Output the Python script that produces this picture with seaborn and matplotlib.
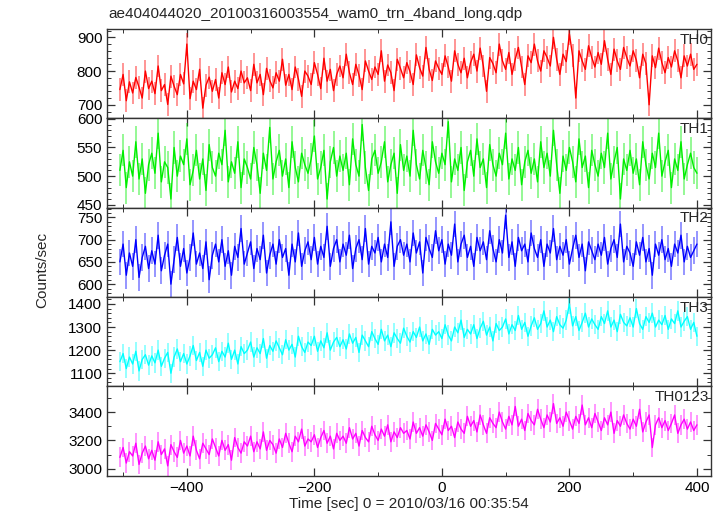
import numpy as np
import pandas as pd
import matplotlib
matplotlib.use("Agg")
import matplotlib.pyplot as plt
from matplotlib.ticker import MultipleLocator
import seaborn as sns

# light curve, 5 s bins from -505 s to 400 s
t_start, t_stop, t_bin = -505, 400, 5

th0 = [745, 790, 712, 768, 735, 781, 752, 720, 800, 748,
       770, 733, 815, 742, 760, 701, 785, 755, 730, 790,
       762, 880, 718, 770, 745, 805, 690, 758, 782, 740,
       775, 720, 795, 760, 812, 738, 770, 748, 800, 765,
       780, 742, 820, 765, 790, 730, 808, 772, 750, 795,
       770, 835, 758, 790, 745, 812, 776, 725, 800, 785,
       760, 825, 790, 748, 838, 770, 805, 742, 790, 815,
       780, 850, 795, 760, 820, 788, 745, 830, 800, 775,
       812, 790, 860, 770, 818, 795, 742, 835, 808, 780,
       825, 798, 760, 848, 810, 785, 870, 805, 772, 830,
       808, 790, 845, 812, 770, 860, 820, 795, 838, 780,
       825, 850, 800, 868, 815, 740, 840, 822, 795, 880,
       830, 805, 855, 790, 835, 870, 812, 760, 845, 825,
       880, 830, 800, 860, 840, 815, 900, 835, 790, 850,
       828, 910, 845, 720, 860, 830, 805, 875, 840, 812,
       855, 820, 890, 835, 790, 865, 830, 805, 870, 840,
       815, 860, 832, 780, 850, 822, 700, 845, 810, 868,
       825, 795, 840, 812, 860, 830, 780, 845, 815, 850,
       805, 820]

th1 = [510, 545, 480, 525, 500, 560, 495, 530, 470, 520,
       540, 505, 575, 490, 525, 515, 460, 550, 500, 535,
       520, 565, 485, 510, 545, 495, 530, 475, 555, 515,
       500, 540, 520, 580, 490, 525, 505, 560, 480, 530,
       515, 495, 550, 520, 470, 540, 510, 585, 495, 525,
       545, 500, 530, 480, 560, 515, 490, 540, 520, 505,
       530, 570, 495, 515, 545, 460, 525, 550, 500, 535,
       510, 540, 485, 565, 520, 500, 590, 515, 475, 530,
       545, 505, 525, 560, 490, 520, 540, 470, 555, 510,
       535, 500, 580, 520, 495, 545, 515, 485, 560, 525,
       505, 540, 520, 595, 490, 530, 510, 550, 475, 525,
       545, 500, 565, 515, 530, 480, 555, 520, 500, 540,
       520, 575, 495, 530, 510, 550, 485, 525, 545, 505,
       530, 490, 560, 515, 540, 500, 580, 520, 470, 535,
       510, 550, 525, 490, 565, 515, 535, 480, 545, 520,
       500, 540, 515, 575, 495, 525, 550, 460, 530, 510,
       545, 505, 530, 485, 560, 520, 495, 540, 515, 575,
       500, 525, 545, 480, 530, 510, 560, 495, 520, 540,
       515, 505]

th2 = [650, 690, 620, 670, 640, 700, 615, 660, 685, 635,
       675, 645, 710, 630, 665, 690, 600, 655, 705, 640,
       680, 625, 660, 715, 645, 670, 635, 695, 610, 665,
       690, 650, 700, 640, 675, 620, 685, 660, 725, 645,
       670, 695, 635, 680, 655, 710, 625, 665, 690, 645,
       700, 660, 680, 620, 690, 650, 715, 640, 675, 695,
       655, 705, 645, 685, 660, 730, 640, 680, 700, 650,
       690, 665, 710, 635, 680, 700, 655, 725, 645, 685,
       670, 705, 650, 690, 660, 740, 640, 685, 700, 665,
       690, 650, 715, 670, 695, 625, 705, 680, 660, 720,
       675, 700, 645, 690, 665, 735, 650, 690, 710, 660,
       685, 640, 705, 675, 695, 655, 720, 680, 650, 700,
       670, 755, 660, 695, 640, 705, 675, 690, 650, 715,
       680, 660, 700, 640, 690, 670, 725, 655, 685, 665,
       700, 645, 680, 710, 660, 690, 630, 695, 675, 655,
       690, 665, 705, 645, 680, 700, 660, 735, 650, 685,
       670, 640, 695, 665, 705, 650, 680, 620, 690, 665,
       700, 655, 680, 640, 690, 670, 710, 650, 685, 660,
       675, 690]

th3 = [1150, 1185, 1120, 1170, 1140, 1195, 1110, 1160, 1180, 1135,
       1175, 1145, 1200, 1130, 1165, 1190, 1100, 1170, 1205, 1150,
       1185, 1140, 1175, 1220, 1155, 1190, 1130, 1200, 1165, 1180,
       1210, 1150, 1195, 1170, 1230, 1160, 1200, 1140, 1215, 1185,
       1200, 1235, 1170, 1210, 1185, 1250, 1165, 1220, 1195, 1240,
       1210, 1180, 1245, 1200, 1225, 1170, 1260, 1215, 1190, 1235,
       1220, 1260, 1195, 1240, 1210, 1275, 1200, 1235, 1255, 1215,
       1245, 1205, 1270, 1230, 1255, 1190, 1265, 1240, 1215, 1280,
       1250, 1225, 1290, 1240, 1265, 1215, 1275, 1250, 1230, 1295,
       1260, 1235, 1280, 1255, 1300, 1240, 1270, 1225, 1290, 1265,
       1280, 1250, 1310, 1265, 1240, 1300, 1275, 1330, 1255, 1290,
       1270, 1310, 1250, 1295, 1325, 1265, 1300, 1240, 1315, 1285,
       1300, 1335, 1270, 1310, 1285, 1350, 1290, 1320, 1260, 1305,
       1340, 1290, 1315, 1370, 1300, 1330, 1280, 1345, 1310, 1295,
       1330, 1400, 1305, 1345, 1285, 1320, 1360, 1300, 1335, 1310,
       1290, 1345, 1315, 1370, 1300, 1330, 1280, 1355, 1320, 1305,
       1340, 1300, 1380, 1315, 1290, 1345, 1320, 1360, 1300, 1330,
       1310, 1350, 1290, 1335, 1315, 1370, 1300, 1325, 1345, 1290,
       1320, 1260]

th0123 = [3080, 3150, 3040, 3120, 3090, 3180, 3030, 3110, 3160, 3070,
          3130, 3060, 3190, 3100, 3140, 3020, 3170, 3120, 3080, 3200,
          3110, 3160, 3090, 3230, 3130, 3070, 3180, 3140, 3100, 3210,
          3150, 3090, 3200, 3130, 3170, 3060, 3220, 3150, 3110, 3190,
          3160, 3230, 3120, 3190, 3140, 3260, 3130, 3200, 3170, 3110,
          3210, 3150, 3250, 3180, 3120, 3230, 3190, 3280, 3160, 3210,
          3190, 3240, 3150, 3220, 3270, 3180, 3230, 3140, 3250, 3200,
          3230, 3180, 3290, 3210, 3250, 3160, 3270, 3220, 3190, 3300,
          3240, 3200, 3280, 3230, 3310, 3190, 3260, 3220, 3290, 3250,
          3270, 3210, 3330, 3250, 3290, 3230, 3310, 3260, 3200, 3320,
          3280, 3240, 3350, 3270, 3300, 3220, 3330, 3280, 3250, 3370,
          3300, 3340, 3260, 3380, 3310, 3250, 3360, 3320, 3290, 3400,
          3330, 3280, 3370, 3310, 3440, 3300, 3350, 3270, 3390, 3340,
          3310, 3420, 3350, 3290, 3380, 3330, 3460, 3320, 3360, 3300,
          3400, 3340, 3280, 3370, 3320, 3450, 3310, 3360, 3290, 3390,
          3330, 3270, 3360, 3310, 3400, 3250, 3340, 3300, 3380, 3320,
          3280, 3350, 3300, 3420, 3260, 3330, 3380, 3150, 3310, 3360,
          3290, 3340, 3270, 3320, 3380, 3250, 3310, 3350, 3280, 3330,
          3270, 3310]

bands = ["TH0", "TH1", "TH2", "TH3", "TH0123"]
series = [th0, th1, th2, th3, th0123]
errors = [34, 28, 30, 42, 70]
colors = ["#ff0000", "#00ee00", "#0000ff", "#00ffff", "#ff00ff"]
ylims = [(660, 925), (445, 601), (571, 772), (1043, 1430), (2950, 3582)]
major = [100, 50, 50, 100, 200]
minor = [20, 10, 10, 20, 100]

time = np.arange(t_start, t_stop + 1, t_bin)

sns.set_style("ticks")
plt.rcParams["font.family"] = ["Liberation Sans", "DejaVu Sans"]

fig, axes = plt.subplots(5, 1, figsize=(7.24, 5.16), dpi=100, sharex=True)
fig.subplots_adjust(left=0.148, right=0.982, top=0.944, bottom=0.078, hspace=0)

for ax, name, vals, err, col, yl, mj, mn in zip(axes, bands, series, errors,
                                                 colors, ylims, major, minor):
    df = pd.DataFrame({"t": time, "rate": vals})
    # error bars first, lighter
    ax.vlines(df["t"], df["rate"] - err, df["rate"] + err, color=col,
              alpha=0.45, lw=1.3)
    sns.lineplot(data=df, x="t", y="rate", ax=ax, color=col, lw=1.0)
    ax.set_ylim(*yl)
    ax.set_xlim(-525, 422)
    ax.yaxis.set_major_locator(MultipleLocator(mj))
    ax.yaxis.set_minor_locator(MultipleLocator(mn))
    ax.xaxis.set_major_locator(MultipleLocator(200))
    ax.xaxis.set_minor_locator(MultipleLocator(100))
    ax.tick_params(which="both", direction="in", top=True, right=True,
                   labelsize=11, colors="#333333", labelcolor="black")
    ax.tick_params(which="major", length=6, width=0.9)
    ax.tick_params(which="minor", length=3, width=0.7)
    ax.set_xlabel("")
    ax.set_ylabel("")
    for s in ax.spines.values():
        s.set_color("#333333")
        s.set_linewidth(1.0)
    ax.text(0.996, 0.88, name, transform=ax.transAxes, ha="right",
            va="center", fontsize=11)

axes[-1].set_xlabel("Time [sec] 0 = 2010/03/16 00:35:54", fontsize=11,
                    labelpad=2)
fig.text(0.149, 0.972, "ae404044020_20100316003554_wam0_trn_4band_long.qdp",
         ha="left", va="center", fontsize=11)
fig.text(0.058, 1 - 270 / 516, "Counts/sec", rotation=90, ha="center",
         va="center", fontsize=11)

fig.savefig("out.png", dpi=100)
